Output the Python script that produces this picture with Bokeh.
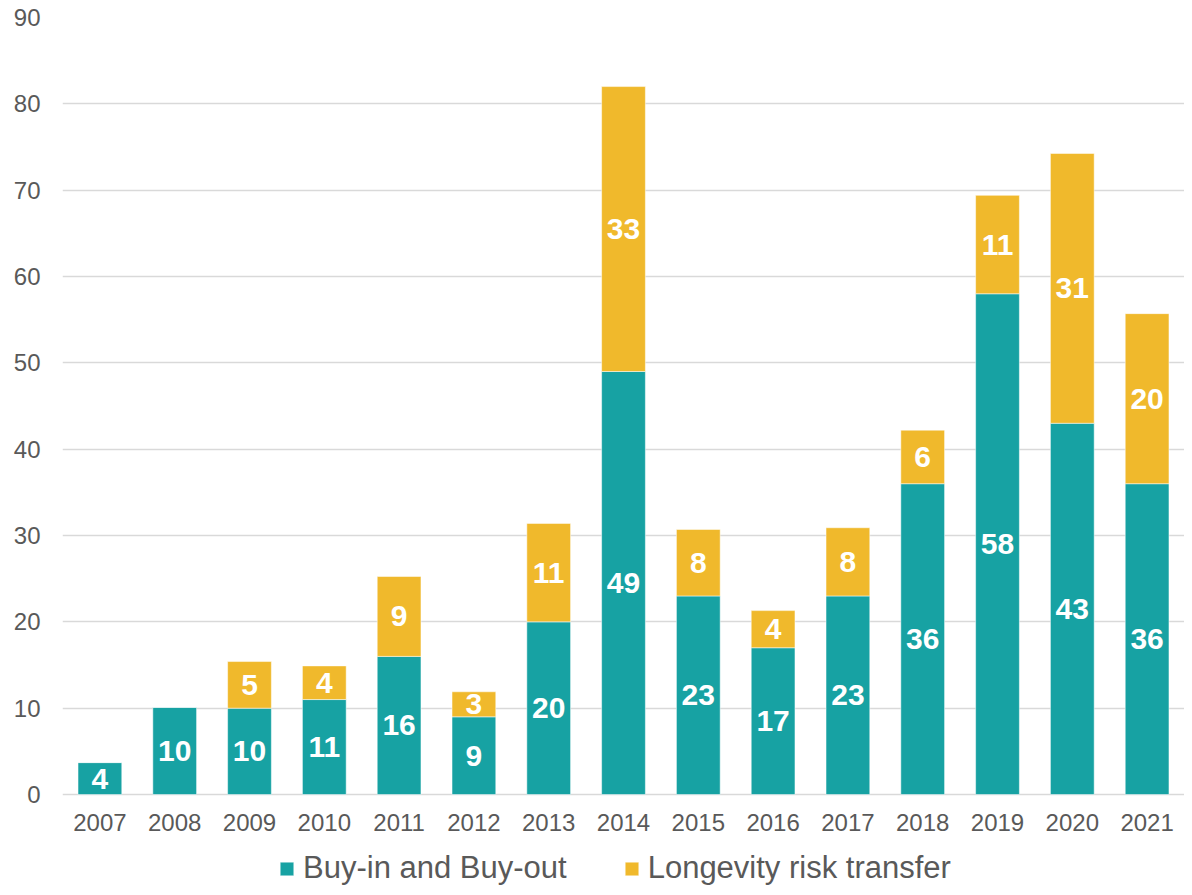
from bokeh.plotting import figure
from bokeh.models import ColumnDataSource, Legend, LegendItem, FactorRange
from bokeh.core.properties import value
from bokeh.embed import file_html
from bokeh.resources import INLINE

years = ["2007", "2008", "2009", "2010", "2011", "2012", "2013", "2014",
         "2015", "2016", "2017", "2018", "2019", "2020", "2021"]
buy = [3.7, 10.1, 10.0, 11.0, 16.0, 9.0, 20.0, 49.0, 23.0, 17.0, 23.0, 36.0, 58.0, 43.0, 36.0]
longevity = [0.0, 0.0, 5.4, 3.9, 9.25, 2.9, 11.4, 33.0, 7.7, 4.3, 7.9, 6.2, 11.4, 31.25, 19.7]
y_ticks = [0, 10, 20, 30, 40, 50, 60, 70, 80, 90]

TEAL = "#17A2A3"
GOLD = "#F0B92C"
FONT = "Liberation Sans"

total = [b + l for b, l in zip(buy, longevity)]
src = ColumnDataSource(dict(x=years, b0=[0] * len(years), b1=buy, l0=buy, l1=total))

# frame extends below 0 so the legend can sit inside it; x axis is pinned at y=0
p = figure(x_range=FactorRange(*years, range_padding=0), y_range=(-10.77, 90),
           width=1184, height=887, output_backend="svg", toolbar_location=None,
           min_border_left=62, min_border_right=0, min_border_top=17,
           min_border_bottom=0)
p.outline_line_color = None

r1 = p.vbar(x="x", bottom="b0", top="b1", width=0.585, source=src,
            fill_color=TEAL, line_color="white", line_width=0.5)
r2 = p.vbar(x="x", bottom="l0", top="l1", width=0.585, source=src,
            fill_color=GOLD, line_color="white", line_width=0.5)

# labels
lx, ly, lt = [], [], []
for i, yr in enumerate(years):
    if buy[i] > 0:
        lx.append(yr); ly.append(buy[i] / 2); lt.append(str(round(buy[i])))
    if longevity[i] > 0:
        lx.append(yr); ly.append(buy[i] + longevity[i] / 2); lt.append(str(round(longevity[i])))
lsrc = ColumnDataSource(dict(x=lx, y=ly, t=lt))
p.text(x="x", y="y", text="t", source=lsrc, text_align="center", text_baseline="middle",
       text_color="white", text_font=value(FONT), text_font_style="bold",
       text_font_size="30px")

p.yaxis.ticker = y_ticks
p.ygrid.ticker = y_ticks
p.ygrid.grid_line_color = "#D9D9D9"
p.ygrid.grid_line_width = 1.5
p.xgrid.grid_line_color = None
for ax in (p.xaxis, p.yaxis):
    ax.axis_line_color = None
    ax.major_tick_line_color = None
    ax.minor_tick_line_color = None
    ax.major_label_text_font = FONT
    ax.major_label_text_font_size = "24px"
    ax.major_label_text_color = "#595959"
p.yaxis.major_label_standoff = 16
p.xaxis.major_label_standoff = 13
p.xaxis.fixed_location = 0

legend = Legend(items=[LegendItem(label="Buy-in and Buy-out", renderers=[r1]),
                       LegendItem(label="Longevity risk transfer", renderers=[r2])],
                orientation="horizontal", location=(216, 1),
                glyph_width=17, glyph_height=17, label_standoff=8, spacing=56,
                label_text_font=FONT, label_text_font_size="31px",
                label_text_color="#595959", border_line_color=None,
                background_fill_alpha=0, margin=0, padding=0)
p.add_layout(legend, "center")

open("out.html", "w").write(file_html(p, INLINE))
